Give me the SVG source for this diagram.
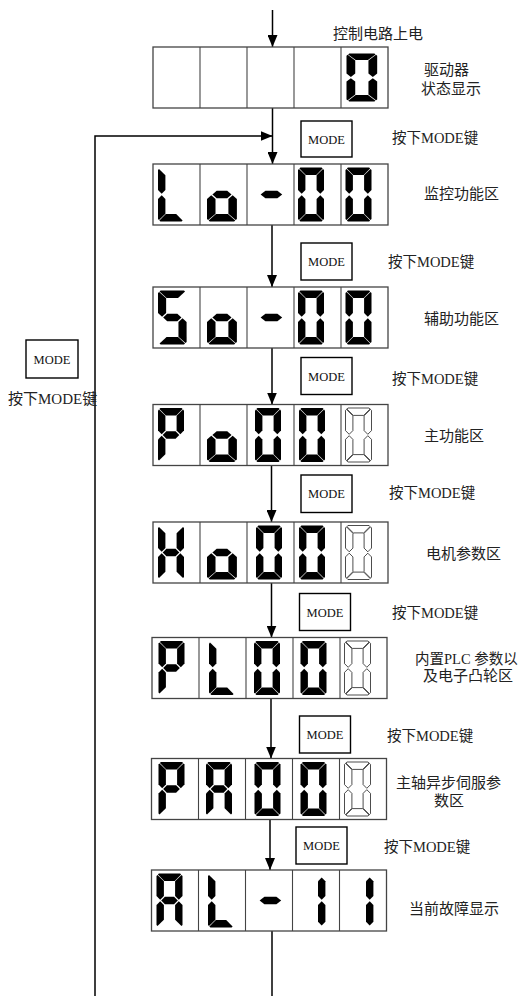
<svg xmlns="http://www.w3.org/2000/svg" width="519" height="996" viewBox="0 0 519 996">
<style>
.bg{fill:#fff}
.disp rect{fill:#fff;stroke:#444;stroke-width:1.3}
.disp line{stroke:#444;stroke-width:1.1}
.dg{fill:#000}
.ol{fill:#fff;stroke:#000;stroke-width:0.7}
.btn{fill:#fff;stroke:#000;stroke-width:1.4}
.bt{font-family:"Liberation Serif","Times New Roman",serif;font-size:12.5px;fill:#111;text-anchor:middle}
.lb{font-family:"Liberation Serif","Noto Sans CJK SC",serif;font-size:15px;fill:#222}
.lk{font-family:"Liberation Serif","Noto Sans CJK SC",serif;font-size:14.5px;fill:#222}
.cn{fill:none;stroke:#000;stroke-width:1.5}
</style>
<defs>
<marker id="ah" markerUnits="userSpaceOnUse" markerWidth="12" markerHeight="10" refX="12" refY="5" orient="auto">
<path d="M0,0 L12,5 L0,10 z" fill="#000"/>
</marker>
<polygon id="sa" points="2.4,0 23.6,0 24.6,1 18.2,7.4 7.8,7.4 1.4,1"/>
<polygon id="sb" points="25,1.4 18.6,7.8 18.6,22.6 22.3,26.3 26,22.6 26,2.4"/>
<polygon id="sc" points="22.3,27.7 26,31.4 26,51.6 25,52.6 18.6,46.2 18.6,31.4"/>
<polygon id="sd" points="2.4,54 23.6,54 24.6,53 18.2,46.6 7.8,46.6 1.4,53"/>
<polygon id="se" points="3.7,27.7 7.4,31.4 7.4,46.2 1,52.6 0,51.6 0,31.4"/>
<polygon id="sf" points="1,1.4 7.4,7.8 7.4,22.6 3.7,26.3 0,22.6 0,2.4"/>
<polygon id="sg" points="4.7,27 8.4,23.3 17.6,23.3 21.3,27 17.6,30.7 8.4,30.7"/>
<g id="d0"><use href="#sa"/><use href="#sb"/><use href="#sc"/><use href="#sd"/><use href="#se"/><use href="#sf"/></g>
<g id="dL"><use href="#sf"/><use href="#se"/><use href="#sd"/></g>
<g id="do"><use href="#sg"/><use href="#sc"/><use href="#sd"/><use href="#se"/></g>
<g id="dm"><use href="#sg"/></g>
<g id="dS"><use href="#sa"/><use href="#sf"/><use href="#sg"/><use href="#sc"/><use href="#sd"/></g>
<g id="dP"><use href="#sa"/><use href="#sb"/><use href="#sf"/><use href="#sg"/><use href="#se"/></g>
<g id="dH"><use href="#sf"/><use href="#sb"/><use href="#sg"/><use href="#se"/><use href="#sc"/></g>
<g id="dA"><use href="#sa"/><use href="#sb"/><use href="#sc"/><use href="#se"/><use href="#sf"/><use href="#sg"/></g>
<g id="d1"><polygon points="3.7,4 7.4,7.7 7.4,22.6 3.7,26.3 0,22.6 0,7.7"/><polygon points="3.7,27.7 7.4,31.4 7.4,48.3 3.7,52 0,48.3 0,31.4"/></g>
</defs>
<rect class="bg" x="0" y="0" width="519" height="996"/>

<g id="connectors">
<path class="cn" d="M272.5,10 V47" marker-end="url(#ah)"/>
<path class="cn" d="M272.5,108 V164" marker-end="url(#ah)"/>
<path class="cn" d="M95,996 V136 H272.5" marker-end="url(#ah)"/>
<path class="cn" d="M272,225 V287" marker-end="url(#ah)"/>
<path class="cn" d="M272,348 V404.5" marker-end="url(#ah)"/>
<path class="cn" d="M271.5,465.5 V522" marker-end="url(#ah)"/>
<path class="cn" d="M271.5,583 V637.5" marker-end="url(#ah)"/>
<path class="cn" d="M271,698.5 V758.5" marker-end="url(#ah)"/>
<path class="cn" d="M270,819.5 V870" marker-end="url(#ah)"/>
<path class="cn" d="M272,931 V996"/>
</g>

<g id="display1" class="disp">
<rect x="153" y="47" width="235" height="61"/>
<line x1="200" y1="47" x2="200" y2="108"/><line x1="247" y1="47" x2="247" y2="108"/><line x1="294" y1="47" x2="294" y2="108"/><line x1="341" y1="47" x2="341" y2="108"/>
<use class="dg" href="#d0" transform="translate(346.5,53.5) scale(1.18,0.89)"/>
</g>
<g id="label-power"><text class="lb" x="333" y="38.7">控制电路上电</text></g>
<g id="label-status"><text class="lb" x="424" y="75">驱动器</text><text class="lb" x="421" y="93.7">状态显示</text></g>

<g id="display2" class="disp">
<rect x="153" y="164" width="235" height="61"/>
<line x1="200" y1="164" x2="200" y2="225"/><line x1="247" y1="164" x2="247" y2="225"/><line x1="294" y1="164" x2="294" y2="225"/><line x1="341" y1="164" x2="341" y2="225"/>
<use class="dg" href="#dL" transform="translate(158,167.5)"/>
<use class="dg" href="#do" transform="translate(207,167.5) scale(1.15,1)"/>
<use class="dg" href="#dm" transform="translate(254.5,167.5) scale(1.3,1)"/>
<use class="dg" href="#d0" transform="translate(298,167.5)"/>
<use class="dg" href="#d0" transform="translate(345.5,167.5)"/>
</g>
<g id="label-monitor"><text class="lb" x="424" y="198.7">监控功能区</text></g>

<g id="display3" class="disp">
<rect x="153" y="287" width="235" height="61"/>
<line x1="200" y1="287" x2="200" y2="348"/><line x1="247" y1="287" x2="247" y2="348"/><line x1="294" y1="287" x2="294" y2="348"/><line x1="341" y1="287" x2="341" y2="348"/>
<use class="dg" href="#dS" transform="translate(158,290.5) scale(1.1,1)"/>
<use class="dg" href="#do" transform="translate(207,290.5) scale(1.15,1)"/>
<use class="dg" href="#dm" transform="translate(254.5,290.5) scale(1.3,1)"/>
<use class="dg" href="#d0" transform="translate(298,290.5)"/>
<use class="dg" href="#d0" transform="translate(345.5,290.5)"/>
</g>
<g id="label-aux"><text class="lb" x="424" y="324">辅助功能区</text></g>

<g id="display4" class="disp">
<rect x="153" y="404.5" width="235" height="61"/>
<line x1="200" y1="404.5" x2="200" y2="465.5"/><line x1="247" y1="404.5" x2="247" y2="465.5"/><line x1="294" y1="404.5" x2="294" y2="465.5"/><line x1="341" y1="404.5" x2="341" y2="465.5"/>
<use class="dg" href="#dP" transform="translate(158,408)"/>
<use class="dg" href="#do" transform="translate(207,408) scale(1.15,1)"/>
<use class="dg" href="#d0" transform="translate(255,408)"/>
<use class="dg" href="#d0" transform="translate(299,408)"/>
<use class="ol" href="#d0" transform="translate(345.5,408)"/>
</g>
<g id="label-main"><text class="lb" x="424" y="440.7">主功能区</text></g>

<g id="display5" class="disp">
<rect x="153" y="522" width="235" height="61"/>
<line x1="200" y1="522" x2="200" y2="583"/><line x1="247" y1="522" x2="247" y2="583"/><line x1="294" y1="522" x2="294" y2="583"/><line x1="341" y1="522" x2="341" y2="583"/>
<use class="dg" href="#dH" transform="translate(158,525.5)"/>
<use class="dg" href="#do" transform="translate(207,525.5) scale(1.15,1)"/>
<use class="dg" href="#d0" transform="translate(256,525.5)"/>
<use class="dg" href="#d0" transform="translate(299,525.5)"/>
<use class="ol" href="#d0" transform="translate(345.5,525.5)"/>
</g>
<g id="label-motor"><text class="lb" x="426" y="559">电机参数区</text></g>

<g id="display6" class="disp">
<rect x="152" y="637.5" width="235" height="61"/>
<line x1="199" y1="637.5" x2="199" y2="698.5"/><line x1="246" y1="637.5" x2="246" y2="698.5"/><line x1="293" y1="637.5" x2="293" y2="698.5"/><line x1="340" y1="637.5" x2="340" y2="698.5"/>
<use class="dg" href="#dP" transform="translate(158.5,641)"/>
<use class="dg" href="#dL" transform="translate(209,641)"/>
<use class="dg" href="#d0" transform="translate(254,641)"/>
<use class="dg" href="#d0" transform="translate(300.5,641)"/>
<use class="ol" href="#d0" transform="translate(344.5,641)"/>
</g>
<g id="label-plc"><text class="lk" x="415" y="664">内置PLC 参数以</text><text class="lb" x="423" y="681">及电子凸轮区</text></g>

<g id="display7" class="disp">
<rect x="151.5" y="758.5" width="235" height="61"/>
<line x1="198.5" y1="758.5" x2="198.5" y2="819.5"/><line x1="245.5" y1="758.5" x2="245.5" y2="819.5"/><line x1="292.5" y1="758.5" x2="292.5" y2="819.5"/><line x1="339.5" y1="758.5" x2="339.5" y2="819.5"/>
<use class="dg" href="#dP" transform="translate(158.5,762)"/>
<use class="dg" href="#dA" transform="translate(206,762)"/>
<use class="dg" href="#d0" transform="translate(254.5,762)"/>
<use class="dg" href="#d0" transform="translate(300.5,762)"/>
<use class="ol" href="#d0" transform="translate(344.5,762)"/>
</g>
<g id="label-spindle"><text class="lb" x="396" y="787.5">主轴异步伺服参</text><text class="lb" x="434" y="805.7">数区</text></g>

<g id="display8" class="disp">
<rect x="151.5" y="870" width="235" height="61"/>
<line x1="198.5" y1="870" x2="198.5" y2="931"/><line x1="245.5" y1="870" x2="245.5" y2="931"/><line x1="292.5" y1="870" x2="292.5" y2="931"/><line x1="339.5" y1="870" x2="339.5" y2="931"/>
<use class="dg" href="#dA" transform="translate(156.5,873.5)"/>
<use class="dg" href="#dL" transform="translate(208,873.5)"/>
<use class="dg" href="#dm" transform="translate(253.5,873.5) scale(1.3,1)"/>
<use class="dg" href="#d1" transform="translate(318,873.5)"/>
<use class="dg" href="#d1" transform="translate(366,873.5)"/>
</g>
<g id="label-fault"><text class="lb" x="409" y="914">当前故障显示</text></g>

<g id="mode1"><rect class="btn" x="301" y="121" width="51" height="36"/><text class="bt" x="326.5" y="143.5">MODE</text><text class="lk" x="392" y="142.5">按下MODE键</text></g>
<g id="mode2"><rect class="btn" x="301" y="243" width="51" height="37"/><text class="bt" x="326.5" y="266">MODE</text><text class="lk" x="388" y="267">按下MODE键</text></g>
<g id="mode3"><rect class="btn" x="301" y="357.5" width="51" height="37"/><text class="bt" x="326.5" y="380.5">MODE</text><text class="lk" x="392" y="383.5">按下MODE键</text></g>
<g id="mode4"><rect class="btn" x="301" y="475" width="51" height="37.5"/><text class="bt" x="326.5" y="498">MODE</text><text class="lk" x="389" y="497.5">按下MODE键</text></g>
<g id="mode5"><rect class="btn" x="299.5" y="593.5" width="51" height="37"/><text class="bt" x="325" y="616.5">MODE</text><text class="lk" x="392" y="617.5">按下MODE键</text></g>
<g id="mode6"><rect class="btn" x="299.5" y="716" width="51" height="37"/><text class="bt" x="325" y="739">MODE</text><text class="lk" x="387" y="740.5">按下MODE键</text></g>
<g id="mode7"><rect class="btn" x="296" y="827" width="51" height="37"/><text class="bt" x="321.5" y="850">MODE</text><text class="lk" x="384" y="851.5">按下MODE键</text></g>
<g id="mode-left"><rect class="btn" x="26" y="340" width="52" height="38"/><text class="bt" x="52" y="363.5">MODE</text><text class="lb" x="8" y="403.5">按下MODE键</text></g>
</svg>
